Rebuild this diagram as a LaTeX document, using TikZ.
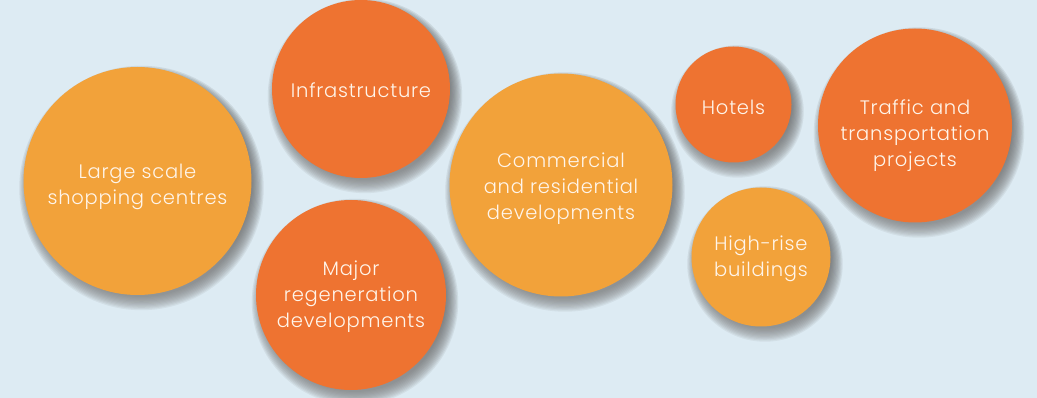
\documentclass[tikz,border=0pt]{standalone}
\usepackage{fontspec}
\setmainfont{Poppins}[UprightFont={* Light},LetterSpace=4]
\definecolor{bg}{HTML}{DDEBF3}
\definecolor{lightor}{HTML}{F2A23A}
\definecolor{darkor}{HTML}{EE7331}
\definecolor{txt}{HTML}{FFF5EA}
\definecolor{shade}{HTML}{4F6373}
\newcommand\bubshadow[3]{%
  \foreach \i in {0,...,11}{%
    \fill[shade, opacity=0.055] (#1+4,#2+7) circle ({#3-5+\i*1.2});
  }}
\tikzset{
  bubble/.style={circle, inner sep=0pt, minimum size=#1},
  light/.style={bubble=#1, fill=lightor},
  dark/.style={bubble=#1, fill=darkor},
  lbl/.style={text=txt, align=center, font=\fontsize{19.5}{26}\selectfont, inner sep=0pt},
}
\begin{document}
\begin{tikzpicture}[x=1pt,y=-1pt]
\fill[bg] (0,0) rectangle (1037,398);
\useasboundingbox (0,0) rectangle (1037,398);
% shadows
\bubshadow{137.5}{181}{114}
\bubshadow{361}{89}{89}
\bubshadow{351}{295}{95}
\bubshadow{561}{185}{111.5}
\bubshadow{733.5}{104.5}{58}
\bubshadow{761}{257}{69.5}
\bubshadow{915}{125.5}{97}
% circles
\node[light=228pt] (shop) at (137.5,181) {};
\node[dark=178pt] (infra) at (361,89) {};
\node[dark=190pt] (major) at (351,295) {};
\node[light=223pt] (comm) at (561,185) {};
\node[dark=116pt] (hotels) at (733.5,104.5) {};
\node[light=139pt] (high) at (761,257) {};
\node[dark=194pt] (traffic) at (915,125.5) {};
% labels
\node[lbl] (shopT) at (137.5,187) {Large scale\\shopping centres};
\node[lbl] (infraT) at (361,90.5) {Infrastructure};
\node[lbl] (majorT) at (351,297) {Major\\regeneration\\developments};
\node[lbl] (commT) at (561,189) {Commercial\\and residential\\developments};
\node[lbl] (hotelsT) at (733.5,107.5) {Hotels};
\node[lbl] (highT) at (761,259) {High-rise\\buildings};
\node[lbl] (trafficT) at (915,136) {Traffic and\\transportation\\projects};
\end{tikzpicture}
\end{document}
